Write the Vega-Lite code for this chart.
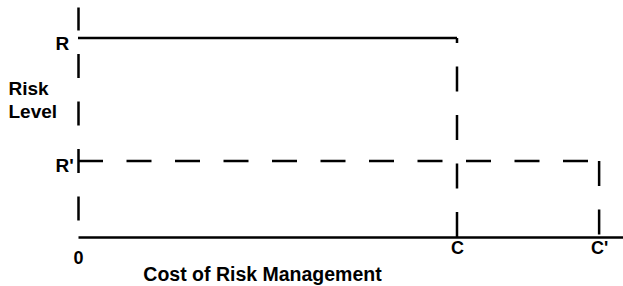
{
  "$schema": "https://vega.github.io/schema/vega-lite/v6.json",
  "width": 545,
  "height": 230,
  "autosize": "none",
  "padding": {"left": 78, "top": 7, "right": 0, "bottom": 49},
  "background": "white",
  "config": {
    "view": {"stroke": null},
    "font": "Liberation Sans"
  },
  "data": {
    "values": [
      {"seg": "R level at cost C", "x": 0, "x2": 100, "y": 100, "y2": 100, "style": "solid"},
      {"seg": "cost C", "x": 100, "x2": 100, "y": 0, "y2": 100, "style": "dashed"},
      {"seg": "R' level at cost C'", "x": 0, "x2": 137.5, "y": 38.2, "y2": 38.2, "style": "dashed"},
      {"seg": "cost C'", "x": 137.5, "x2": 137.5, "y": 38.2, "y2": 0, "style": "dashed"}
    ]
  },
  "encoding": {
    "x": {
      "field": "x",
      "type": "quantitative",
      "scale": {"domain": [0, 143.8], "nice": false, "zero": false},
      "axis": {
        "title": "Cost of Risk Management",
        "titleFont": "Liberation Sans",
        "titleFontSize": 19.5,
        "titleFontWeight": "bold",
        "titleColor": "black",
        "titleAlign": "center",
        "titleAnchor": null,
        "titleX": 184,
        "titleY": 43,
        "titleBaseline": "alphabetic",
        "values": [0, 100, 137.5],
        "labelExpr": "datum.value == 0 ? '0' : (datum.value == 100 ? 'C' : \"C'\")",
        "labelFont": "Liberation Sans",
        "labelFontSize": 18,
        "labelFontWeight": "bold",
        "labelColor": "black",
        "labelBaseline": "middle",
        "labelAlign": "center",
        "labelPadding": {"condition": {"test": "datum.value == 0", "value": 21}, "value": 11},
        "labelFlush": false,
        "labelOverlap": false,
        "ticks": false,
        "tickSize": 0,
        "grid": false,
        "domain": true,
        "domainColor": "black",
        "domainWidth": 2.5
      }
    },
    "x2": {"field": "x2"},
    "y": {
      "field": "y",
      "type": "quantitative",
      "scale": {"domain": [0, 115.6], "nice": false, "zero": false},
      "axis": {
        "title": ["Risk", "Level"],
        "titleFont": "Liberation Sans",
        "titleFontSize": 19,
        "titleFontWeight": "bold",
        "titleColor": "black",
        "titleAngle": 0,
        "titleAlign": "left",
        "titleAnchor": null,
        "titleX": -70,
        "titleY": 87,
        "titleBaseline": "alphabetic",
        "titleLineHeight": 23,
        "values": [100, 38.2],
        "labelExpr": "datum.value == 100 ? 'R' : \"R'\"",
        "labelFont": "Liberation Sans",
        "labelFontSize": 19,
        "labelFontWeight": "bold",
        "labelColor": "black",
        "labelAlign": "left",
        "labelBaseline": "middle",
        "labelPadding": 23,
        "labelOffset": 5,
        "labelFlush": false,
        "labelOverlap": false,
        "ticks": false,
        "tickSize": 0,
        "grid": false,
        "domain": true,
        "domainColor": "black",
        "domainWidth": 2.5,
        "domainDash": [24, 23.5],
        "domainDashOffset": 30.5
      }
    },
    "y2": {"field": "y2"}
  },
  "layer": [
    {
      "transform": [{"filter": "datum.style == 'solid'"}],
      "mark": {"type": "rule", "color": "black", "strokeWidth": 2.5}
    },
    {
      "transform": [{"filter": "datum.style == 'dashed'"}],
      "mark": {"type": "rule", "color": "black", "strokeWidth": 2.5, "strokeDash": [25, 23.5]}
    }
  ]
}
